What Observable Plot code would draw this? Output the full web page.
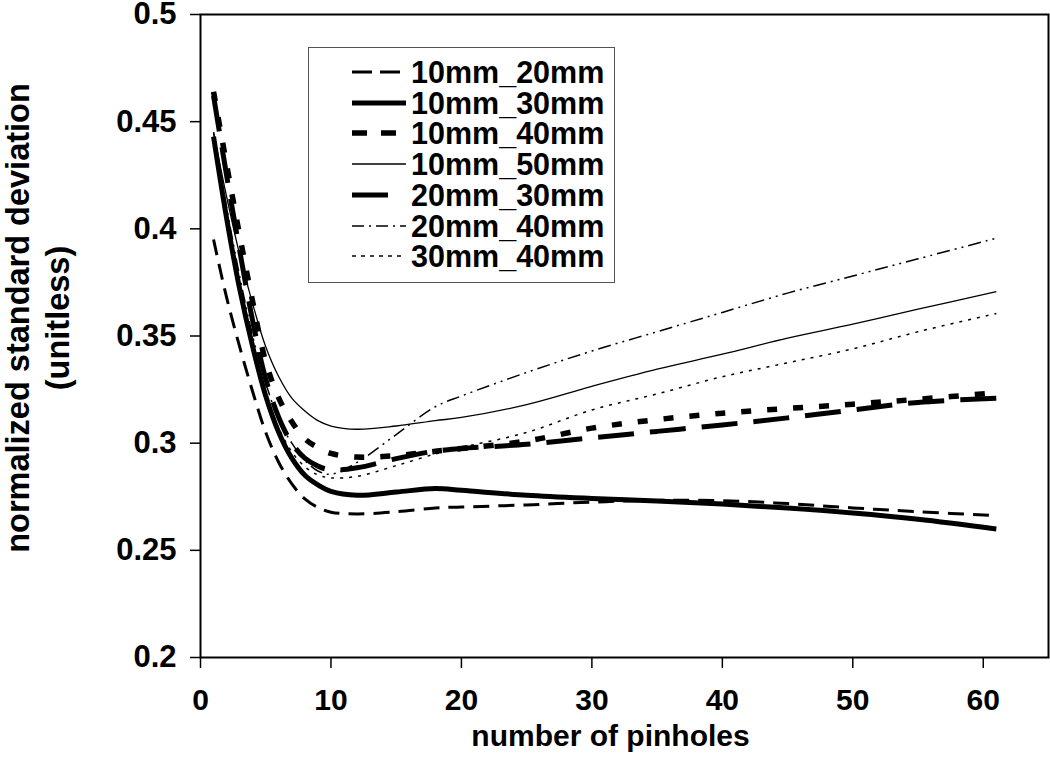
<!DOCTYPE html>
<html>
<head>
<meta charset="utf-8">
<script src="https://cdn.jsdelivr.net/npm/d3@7"></script>
<script src="https://cdn.jsdelivr.net/npm/@observablehq/plot@0.6"></script>
<style>
  body { margin: 0; background: #fff; }
  #wrap { position: relative; width: 1050px; height: 767px; font-family: "Liberation Sans", Arial, sans-serif; }
  #legend { position: absolute; left: 308px; top: 47px; width: 305px; height: 234px; border: 1.5px solid #555; background: #fff; box-sizing: content-box; }
  .row { position: absolute; left: 0; height: 30px; display: flex; align-items: center; }
  .row span { font-weight: bold; font-size: 30.5px; line-height: 28px; color: #000; margin-left: 4px; }
</style>
</head>
<body>
<div id="wrap"></div>
<script>
const pinholes = [1,2,3,4,5,6,7,8,9,10,12,15,18,20,25,30,35,40,45,50,55,61];
const seriesNames = ["10mm_20mm","10mm_30mm","10mm_40mm","10mm_50mm","20mm_30mm","20mm_40mm","30mm_40mm"];
const s10_20 = [0.395,0.368,0.345,0.324,0.305,0.291,0.281,0.274,0.270,0.2678,0.2670,0.2680,0.2698,0.2702,0.2712,0.2725,0.2733,0.2732,0.2718,0.2698,0.2680,0.2662];
const s10_30 = [0.443,0.405,0.372,0.345,0.322,0.305,0.293,0.285,0.2805,0.2775,0.2757,0.2772,0.2788,0.2780,0.2757,0.2742,0.2730,0.2716,0.2697,0.2674,0.2645,0.2600];
const s10_40 = [0.464,0.430,0.397,0.366,0.338,0.321,0.310,0.302,0.298,0.2952,0.2935,0.2942,0.2962,0.2975,0.3010,0.3070,0.3110,0.3140,0.3162,0.3182,0.3205,0.3235];
const s10_50 = [0.445,0.415,0.388,0.365,0.345,0.331,0.321,0.315,0.3105,0.3080,0.3065,0.3080,0.3105,0.3120,0.3180,0.3265,0.3345,0.3415,0.3490,0.3555,0.3625,0.3707];
const s20_30 = [0.462,0.425,0.390,0.357,0.330,0.312,0.300,0.293,0.2893,0.2875,0.2885,0.2928,0.2963,0.2975,0.2995,0.3025,0.3055,0.3085,0.3118,0.3155,0.3190,0.3210];
const s20_40 = [0.445,0.410,0.378,0.350,0.328,0.311,0.300,0.292,0.287,0.2855,0.2910,0.3040,0.3170,0.3220,0.3330,0.3430,0.3520,0.3610,0.3700,0.3780,0.3860,0.3956];
const s30_40 = [0.440,0.405,0.372,0.345,0.324,0.307,0.296,0.289,0.2852,0.2838,0.2845,0.2895,0.2950,0.2980,0.3050,0.3155,0.3230,0.3310,0.3375,0.3440,0.3520,0.3605];
const xTicks = [0,10,20,30,40,50,60];
const yTicks = [0.2,0.25,0.3,0.35,0.4,0.45,0.5];
const xTitle = "number of pinholes";
const yTitle = "normalized standard deviation\n(unitless)";

const seriesValues = [s10_20, s10_30, s10_40, s10_50, s20_30, s20_40, s30_40];
const styles = [
  {w: 3, dash: "16,9", legendDash: "20,8"},
  {w: 5, dash: null, legendDash: null},
  {w: 5.5, dash: "10,16", legendDash: "15,14"},
  {w: 1.3, dash: null, legendDash: null},
  {w: 5, dash: "36,16", legendDash: "36,40"},
  {w: 1.5, dash: "13,5,2,5,2,5", legendDash: "12,5,2,5"},
  {w: 1.5, dash: "3,6", legendDash: "4,5"}
];

const font = '"Liberation Sans", Arial, sans-serif';
const lineMarks = seriesNames.map((name, i) => {
  const rows = pinholes.map((x, j) => ({x, y: seriesValues[i][j], name}));
  return Plot.line(rows, {x: "x", y: "y", stroke: "black", strokeWidth: styles[i].w,
    strokeDasharray: styles[i].dash || undefined, curve: "catmull-rom", strokeLinecap: "butt", strokeLinejoin: "round"});
});

const chart = Plot.plot({
  width: 1050, height: 767,
  marginLeft: 200, marginRight: 2, marginTop: 14, marginBottom: 110,
  style: {fontFamily: font, fontWeight: "bold", fontSize: "30px", color: "black", background: "white", overflow: "visible"},
  x: {domain: [0, 65]},
  y: {domain: [0.2, 0.5]},
  marks: [
    Plot.frame({stroke: "black", strokeWidth: 2}),
    Plot.axisX({ticks: xTicks, tickSize: 11, tickPadding: 20, label: null, fontSize: 30, fontWeight: "bold", strokeWidth: 1.5}),
    Plot.axisY({ticks: yTicks, tickSize: 10, tickPadding: 14, label: null, fontSize: 31, fontWeight: "bold", strokeWidth: 1.5, tickFormat: d => String(d)}),
    ...lineMarks,
    Plot.text([xTitle], {text: d => d, frameAnchor: "bottom", dy: 88, dx: -14, fontSize: 30, fontWeight: "bold", fill: "black"}),
    Plot.text([yTitle], {text: d => d, frameAnchor: "left", textAnchor: "middle", lineAnchor: "middle", dx: -164, dy: -18, rotate: -90, fontSize: 32.5, fontWeight: "bold", lineHeight: 1.22, fill: "black"})
  ]
});

const wrap = document.getElementById("wrap");
wrap.appendChild(chart);

const legend = document.createElement("div");
legend.id = "legend";
seriesNames.forEach((name, i) => {
  const row = document.createElement("div");
  row.className = "row";
  row.style.top = (9 + i * 30.7) + "px";
  row.style.left = "40px";
  const ns = "http://www.w3.org/2000/svg";
  const svg = document.createElementNS(ns, "svg");
  svg.setAttribute("width", 58); svg.setAttribute("height", 30);
  const ln = document.createElementNS(ns, "line");
  ln.setAttribute("x1", 3); ln.setAttribute("x2", 57);
  ln.setAttribute("y1", 15); ln.setAttribute("y2", 15);
  ln.setAttribute("stroke", "black");
  ln.setAttribute("stroke-width", styles[i].w);
  if (styles[i].legendDash) ln.setAttribute("stroke-dasharray", styles[i].legendDash);
  svg.appendChild(ln);
  const sp = document.createElement("span");
  sp.textContent = name;
  row.appendChild(svg); row.appendChild(sp);
  legend.appendChild(row);
});
wrap.appendChild(legend);
</script>
</body>
</html>
